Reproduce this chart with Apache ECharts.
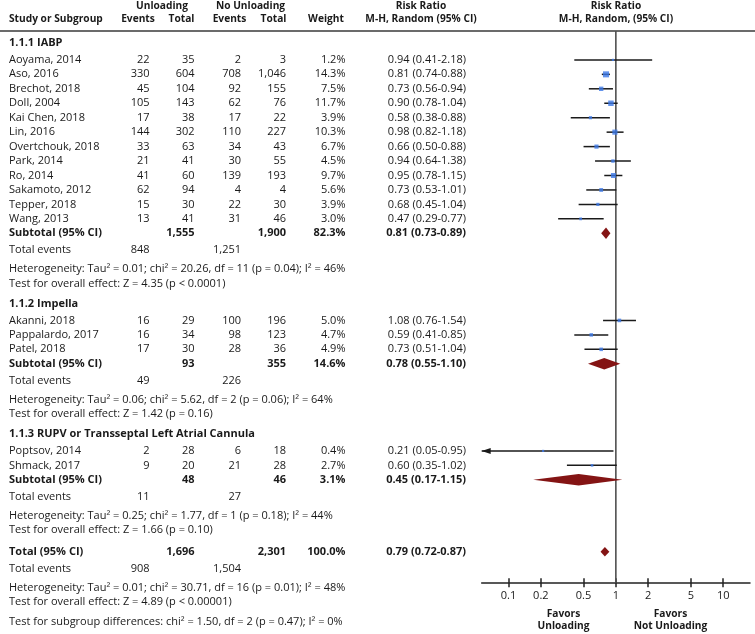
<!DOCTYPE html>
<html><head><meta charset="utf-8">
<script src="https://cdn.jsdelivr.net/npm/echarts@6/dist/echarts.min.js"></script>
<style>html,body{margin:0;padding:0;background:#fff}#c{width:755px;height:634px}</style>
</head><body><div id="c"></div>
<script>
// ---------------- DATA ----------------
const groupNames = ['1.1.1 IABP', '1.1.2 Impella', '1.1.3 RUPV or Transseptal Left Atrial Cannula'];
const studyNames = ['Aoyama, 2014','Aso, 2016','Brechot, 2018','Doll, 2004','Kai Chen, 2018','Lin, 2016','Overtchouk, 2018','Park, 2014','Ro, 2014','Sakamoto, 2012','Tepper, 2018','Wang, 2013',
  'Akanni, 2018','Pappalardo, 2017','Patel, 2018',
  'Poptsov, 2014','Shmack, 2017'];
const studyGroup = [0,0,0,0,0,0,0,0,0,0,0,0, 1,1,1, 2,2];
const eventsUnl = [22,330,45,105,17,144,33,21,41,62,15,13, 16,16,17, 2,9];
const totalUnl  = [35,604,104,143,38,302,63,41,60,94,30,41, 29,34,30, 28,20];
const eventsNo  = [2,708,92,62,17,110,34,30,139,4,22,31, 100,98,28, 6,21];
const totalNo   = [3,1046,155,76,22,227,43,55,193,4,30,46, 196,123,36, 18,28];
const weights   = [1.2,14.3,7.5,11.7,3.9,10.3,6.7,4.5,9.7,5.6,3.9,3.0, 5.0,4.7,4.9, 0.4,2.7];
const rr        = [0.94,0.81,0.73,0.90,0.58,0.98,0.66,0.94,0.95,0.73,0.68,0.47, 1.08,0.59,0.73, 0.21,0.60];
const rrLo      = [0.41,0.74,0.56,0.78,0.38,0.82,0.50,0.64,0.78,0.53,0.45,0.29, 0.76,0.41,0.51, 0.05,0.35];
const rrHi      = [2.18,0.88,0.94,1.04,0.88,1.18,0.88,1.38,1.15,1.01,1.04,0.77, 1.54,0.85,1.04, 0.95,1.02];

const subTotalUnl = [1555, 93, 48];
const subTotalNo  = [1900, 355, 46];
const subWeight   = [82.3, 14.6, 3.1];
const subRR       = [0.81, 0.78, 0.45];
const subLo       = [0.73, 0.55, 0.17];
const subHi       = [0.89, 1.10, 1.15];
const subEventsUnl = [848, 49, 11];
const subEventsNo  = [1251, 226, 27];
const subHet = ['Heterogeneity: Tau² = 0.01; chi² = 20.26, df = 11 (p = 0.04); I² = 46%',
                'Heterogeneity: Tau² = 0.06; chi² = 5.62, df = 2 (p = 0.06); I² = 64%',
                'Heterogeneity: Tau² = 0.25; chi² = 1.77, df = 1 (p = 0.18); I² = 44%'];
const subTest = ['Test for overall effect: Z = 4.35 (p < 0.0001)',
                 'Test for overall effect: Z = 1.42 (p = 0.16)',
                 'Test for overall effect: Z = 1.66 (p = 0.10)'];

const overallTotalUnl = 1696, overallTotalNo = 2301, overallWeight = 100.0;
const overallRR = 0.79, overallLo = 0.72, overallHi = 0.87;
const overallEventsUnl = 908, overallEventsNo = 1504;
const overallHet = 'Heterogeneity: Tau² = 0.01; chi² = 30.71, df = 16 (p = 0.01); I² = 48%';
const overallTest = 'Test for overall effect: Z = 4.89 (p < 0.00001)';
const subgroupTest = 'Test for subgroup differences: chi² = 1.50, df = 2 (p = 0.47); I² = 0%';

const tickValues = [0.1, 0.2, 0.5, 1, 2, 5, 10];
const tickLabels = ['0.1', '0.2', '0.5', '1', '2', '5', '10'];

// ---------------- LAYOUT ----------------
const FONT = "'Open Sans', sans-serif";
const TXT = '#1a1a1a';
const FS = 11;
const STAT_FS = 11;
const UNIT = 14.45, TOP = 31, AXIS_Y = 582.7;
const Y_MAX = (AXIS_Y - TOP) / UNIT;
const X_MIN = -1.25, X_MAX = 1.25;
const COL = {name: 9, evU: 149.5, totU: 194.5, evN: 241, totN: 286, w: 345.5, rr: 466};
const fmtN = v => v.toLocaleString('en-US');
const fmtRR = (e, l, h) => e.toFixed(2) + ' (' + l.toFixed(2) + '-' + h.toFixed(2) + ')';
const lg = v => Math.log10(v);

const rows = [];
let u = 0.85;
groupNames.forEach((g, gi) => {
  rows.push({kind: 'group', u, gi}); u += 1.15;
  studyNames.forEach((s, si) => { if (studyGroup[si] === gi) { rows.push({kind: 'study', u, si}); u += 1; } });
  rows.push({kind: 'sub', u, gi}); u += 1.15;
  rows.push({kind: 'events', u, gi}); u += 1.33;
  rows.push({kind: 'het', u, gi}); u += 1.0;
  rows.push({kind: 'test', u, gi}); u += (gi < groupNames.length - 1 ? 1.4 : 1.5);
});
rows.push({kind: 'total', u}); u += 1.15;
rows.push({kind: 'tevents', u}); u += 1.33;
rows.push({kind: 'thet', u}); u += 1.0;
rows.push({kind: 'ttest', u}); u += 1.36;
rows.push({kind: 'sgtest', u});

const py = uu => TOP + uu * UNIT;
function txt(x, y, s, o) {
  o = o || {};
  const al = o.align || 'left';
  return {type: 'text', x: x, y: y, silent: true, z: 10,
    style: {text: s, fill: TXT, fontSize: o.size || FS, fontWeight: o.bold ? 'bold' : 'normal', fontFamily: FONT,
      align: al, verticalAlign: 'middle', textAlign: al, textVerticalAlign: 'middle'}};
}

const graphics = [];
// headers
const HS = 10.2;
graphics.push(txt(162, 6.5, 'Unloading', {bold: true, align: 'center', size: HS}));
graphics.push(txt(250.5, 6.5, 'No Unloading', {bold: true, align: 'center', size: HS}));
graphics.push(txt(9, 19.5, 'Study or Subgroup', {bold: true, size: HS}));
graphics.push(txt(138, 19.5, 'Events', {bold: true, align: 'center', size: HS}));
graphics.push(txt(181.5, 19.5, 'Total', {bold: true, align: 'center', size: HS}));
graphics.push(txt(229.5, 19.5, 'Events', {bold: true, align: 'center', size: HS}));
graphics.push(txt(273.5, 19.5, 'Total', {bold: true, align: 'center', size: HS}));
graphics.push(txt(326, 19.5, 'Weight', {bold: true, align: 'center', size: HS}));
graphics.push(txt(421, 6.5, 'Risk Ratio', {bold: true, align: 'center', size: HS}));
graphics.push(txt(421, 19.5, 'M-H, Random (95% CI)', {bold: true, align: 'center', size: HS}));
graphics.push(txt(616, 6.5, 'Risk Ratio', {bold: true, align: 'center', size: HS}));
graphics.push(txt(616, 19.5, 'M-H, Random, (95% CI)', {bold: true, align: 'center', size: HS}));
graphics.push({type: 'line', silent: true, shape: {x1: 0, y1: TOP, x2: 755, y2: TOP}, style: {stroke: '#3a3a3a', lineWidth: 1.5}});

const ciData = [], sqData = [], dmData = [];
rows.forEach(r => {
  const y = py(r.u);
  if (r.kind === 'group') {
    graphics.push(txt(COL.name, y, groupNames[r.gi], {bold: true}));
  } else if (r.kind === 'study') {
    const i = r.si;
    graphics.push(txt(COL.name, y, studyNames[i]));
    graphics.push(txt(COL.evU, y, fmtN(eventsUnl[i]), {align: 'right'}));
    graphics.push(txt(COL.totU, y, fmtN(totalUnl[i]), {align: 'right'}));
    graphics.push(txt(COL.evN, y, fmtN(eventsNo[i]), {align: 'right'}));
    graphics.push(txt(COL.totN, y, fmtN(totalNo[i]), {align: 'right'}));
    graphics.push(txt(COL.w, y, weights[i].toFixed(1) + '%', {align: 'right'}));
    graphics.push(txt(COL.rr, y, fmtRR(rr[i], rrLo[i], rrHi[i]), {align: 'right'}));
    ciData.push([lg(rrLo[i]), lg(rrHi[i]), r.u]);
    sqData.push([lg(rr[i]), r.u, weights[i]]);
  } else if (r.kind === 'sub') {
    const g = r.gi;
    graphics.push(txt(COL.name, y, 'Subtotal (95% CI)', {bold: true}));
    graphics.push(txt(COL.totU, y, fmtN(subTotalUnl[g]), {align: 'right', bold: true}));
    graphics.push(txt(COL.totN, y, fmtN(subTotalNo[g]), {align: 'right', bold: true}));
    graphics.push(txt(COL.w, y, subWeight[g].toFixed(1) + '%', {align: 'right', bold: true}));
    graphics.push(txt(COL.rr, y, fmtRR(subRR[g], subLo[g], subHi[g]), {align: 'right', bold: true}));
    dmData.push([lg(subLo[g]), lg(subRR[g]), lg(subHi[g]), r.u, 11.5]);
  } else if (r.kind === 'events') {
    graphics.push(txt(COL.name, y, 'Total events'));
    graphics.push(txt(COL.evU, y, fmtN(subEventsUnl[r.gi]), {align: 'right'}));
    graphics.push(txt(COL.evN, y, fmtN(subEventsNo[r.gi]), {align: 'right'}));
  } else if (r.kind === 'het') {
    graphics.push(txt(COL.name, y, subHet[r.gi], {size: STAT_FS}));
  } else if (r.kind === 'test') {
    graphics.push(txt(COL.name, y, subTest[r.gi]));
  } else if (r.kind === 'total') {
    graphics.push(txt(COL.name, y, 'Total (95% CI)', {bold: true}));
    graphics.push(txt(COL.totU, y, fmtN(overallTotalUnl), {align: 'right', bold: true}));
    graphics.push(txt(COL.totN, y, fmtN(overallTotalNo), {align: 'right', bold: true}));
    graphics.push(txt(COL.w, y, overallWeight.toFixed(1) + '%', {align: 'right', bold: true}));
    graphics.push(txt(COL.rr, y, fmtRR(overallRR, overallLo, overallHi), {align: 'right', bold: true}));
    dmData.push([lg(overallLo), lg(overallRR), lg(overallHi), r.u, 9.5]);
  } else if (r.kind === 'tevents') {
    graphics.push(txt(COL.name, y, 'Total events'));
    graphics.push(txt(COL.evU, y, fmtN(overallEventsUnl), {align: 'right'}));
    graphics.push(txt(COL.evN, y, fmtN(overallEventsNo), {align: 'right'}));
  } else if (r.kind === 'thet') {
    graphics.push(txt(COL.name, y, overallHet, {size: STAT_FS}));
  } else if (r.kind === 'ttest') {
    graphics.push(txt(COL.name, y, overallTest));
  } else if (r.kind === 'sgtest') {
    graphics.push(txt(COL.name, y, subgroupTest));
  }
});
// favors labels
graphics.push(txt(563.5, 614, 'Favors', {bold: true, size: HS, align: 'center'}));
graphics.push(txt(563.5, 626.5, 'Unloading', {bold: true, size: HS, align: 'center'}));
graphics.push(txt(670.5, 614, 'Favors', {bold: true, size: HS, align: 'center'}));
graphics.push(txt(670.5, 626.5, 'Not Unloading', {bold: true, size: HS, align: 'center'}));

const tickLogs = tickValues.map(lg);
function tickLabelFor(v) {
  let best = 0;
  tickLogs.forEach((t, i) => { if (Math.abs(t - v) < Math.abs(tickLogs[best] - v)) best = i; });
  return tickLabels[best];
}

const chart = echarts.init(document.getElementById('c'), null, {renderer: 'canvas'});
chart.setOption({
  animation: false,
  backgroundColor: '#fff',
  grid: {left: 481.7, right: 5, top: TOP, bottom: 634 - AXIS_Y, containLabel: false, outerBoundsMode: 'none'},
  xAxis: [{
    type: 'value', min: X_MIN, max: X_MAX, position: 'bottom',
    axisLine: {show: true, onZero: false, lineStyle: {color: '#222', width: 1.5}},
    axisTick: {show: true, customValues: tickLogs, length: 4.5, lineStyle: {color: '#222', width: 1.5}},
    axisLabel: {show: true, customValues: tickLogs, formatter: v => tickLabelFor(v), margin: 8, fontSize: 11, color: TXT, fontFamily: FONT},
    splitLine: {show: false}
  }, {
    type: 'value', min: X_MIN, max: X_MAX, position: 'bottom',
    axisLine: {show: false, onZero: false},
    axisTick: {show: true, inside: true, customValues: tickLogs, length: 4.5, lineStyle: {color: '#222', width: 1.5}},
    axisLabel: {show: false},
    splitLine: {show: false}
  }],
  yAxis: {type: 'value', inverse: true, min: 0, max: Y_MAX, show: false},
  series: [
    {
      type: 'line', xAxisIndex: 0, data: [[0, 0], [0, Y_MAX]], symbol: 'none', silent: true,
      lineStyle: {color: '#505050', width: 1.6}, z: 1
    },
    {
      type: 'custom', xAxisIndex: 0, data: ciData, silent: true, z: 3,
      renderItem: (params, api) => {
        const lo = api.value(0), hi = api.value(1), yy = api.value(2);
        const p1 = api.coord([Math.max(lo, X_MIN), yy]);
        const p2 = api.coord([Math.min(hi, X_MAX), yy]);
        const ch = [{type: 'line', shape: {x1: p1[0], y1: p1[1], x2: p2[0], y2: p2[1]}, style: {stroke: '#1a1a1a', lineWidth: 1.5}}];
        if (lo < X_MIN) {
          ch.push({type: 'polygon', shape: {points: [[p1[0], p1[1]], [p1[0] + 9, p1[1] - 3], [p1[0] + 9, p1[1] + 3]]}, style: {fill: '#1a1a1a'}});
        }
        return {type: 'group', children: ch};
      }
    },
    {
      type: 'scatter', xAxisIndex: 0, data: sqData, symbol: 'rect', silent: true, z: 4,
      symbolSize: v => Math.max(2.2, 1.6 * Math.sqrt(v[2])),
      itemStyle: {color: '#3c78e6'}
    },
    {
      type: 'custom', xAxisIndex: 0, data: dmData, silent: true, z: 4,
      renderItem: (params, api) => {
        const yy = api.value(3), h = api.value(4) / 2;
        const a = api.coord([api.value(0), yy]);
        const m = api.coord([api.value(1), yy]);
        const b = api.coord([api.value(2), yy]);
        return {type: 'polygon', shape: {points: [[a[0], a[1]], [m[0], m[1] - h], [b[0], b[1]], [m[0], m[1] + h]]}, style: {fill: '#841414'}};
      }
    }
  ],
  graphic: graphics
});
</script>
</body></html>
